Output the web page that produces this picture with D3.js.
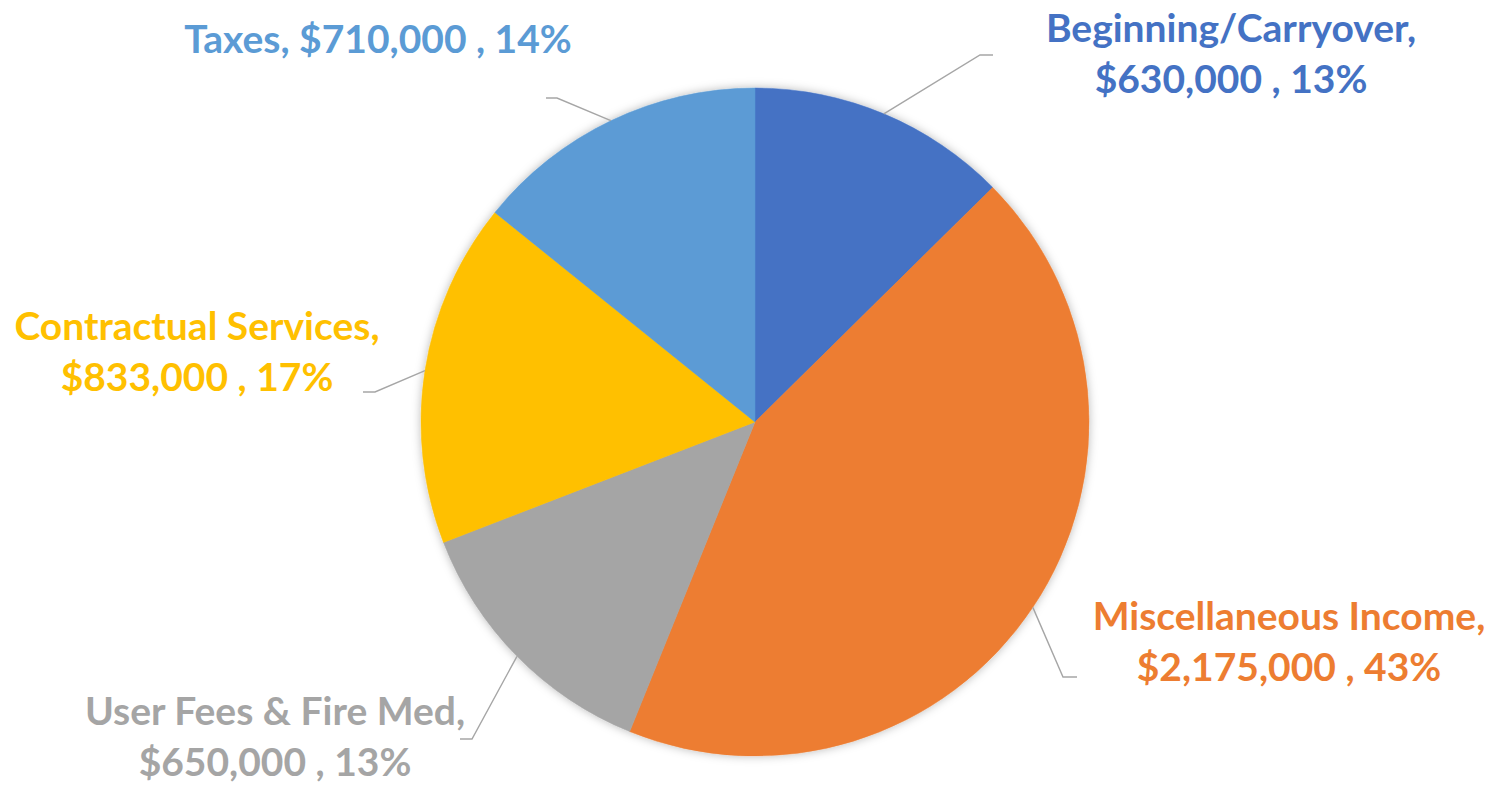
<!DOCTYPE html>
<html><head><meta charset="utf-8">
<script src="https://cdn.jsdelivr.net/npm/d3@7"></script>
<style>html,body{margin:0;padding:0;background:#fff;}svg{display:block;}</style>
</head><body>
<svg id="chart" width="1501" height="785"></svg>
<script>
const categories = ["Beginning/Carryover", "Miscellaneous Income", "User Fees & Fire Med", "Contractual Services", "Taxes"];
const values = [630000, 2175000, 650000, 833000, 710000];
const percentLabels = [13, 43, 13, 17, 14];
const colors = ["#4472C4", "#ED7D31", "#A5A5A5", "#FFC000", "#5B9BD5"];

// layout (label anchor, text lines, leader elbow)
const labelLayout = [
  {cx: 1231, base: 42, twoLine: true, elbow: [980, 55], end: [993, 55]},
  {cx: 1289, base: 630, twoLine: true, elbow: [1063, 677], end: [1077, 677]},
  {cx: 275, base: 725, twoLine: true, elbow: [472, 739], end: [460, 739]},
  {cx: 197, base: 340, twoLine: true, elbow: [375, 392], end: [363, 392]},
  {cx: 378, base: 53, twoLine: false, elbow: [557, 98], end: [546, 98]}
];

const svg = d3.select("#chart");
const cx = 755, cy = 422, r = 334;
const fmt = d3.format(",");

const defs = svg.append("defs");
const f = defs.append("filter").attr("id","sh").attr("x","-10%").attr("y","-10%").attr("width","120%").attr("height","120%");
f.append("feDropShadow").attr("dx",0).attr("dy",0).attr("stdDeviation",5).attr("flood-color","#000").attr("flood-opacity",0.28);

const pie = d3.pie().sort(null).value(d => d)(values);
const arc = d3.arc().innerRadius(0).outerRadius(r);

const g = svg.append("g").attr("transform", `translate(${cx},${cy})`);
const pg = g.append("g").attr("filter","url(#sh)");
pg.selectAll("path").data(pie).join("path")
  .attr("d", arc)
  .attr("fill", (d,i) => colors[i])
  .attr("stroke", (d,i) => colors[i])
  .attr("stroke-width", 0.5);

// leader lines
pie.forEach((d,i) => {
  const a = (d.startAngle + d.endAngle)/2;
  const px = cx + r*Math.sin(a), py = cy - r*Math.cos(a);
  const L = labelLayout[i];
  svg.append("polyline")
    .attr("points", [[px,py], L.elbow, L.end].map(p => p.join(",")).join(" "))
    .attr("fill","none").attr("stroke","#A6A6A6").attr("stroke-width",1.4);
});

// labels
pie.forEach((d,i) => {
  const L = labelLayout[i];
  const val = "$" + fmt(values[i]) + " , " + percentLabels[i] + "%";
  const t = svg.append("text")
    .attr("text-anchor","middle")
    .attr("font-family","Lato, 'Open Sans', sans-serif")
    .attr("font-weight","bold")
    .attr("font-size", 39)
    .attr("fill", colors[i]);
  if (L.twoLine) {
    t.append("tspan").attr("x", L.cx).attr("y", L.base).text(categories[i] + ",");
    t.append("tspan").attr("x", L.cx).attr("y", L.base + 51).text(val);
  } else {
    t.append("tspan").attr("x", L.cx).attr("y", L.base).text(categories[i] + ", " + val);
  }
});
</script>
</body></html>
